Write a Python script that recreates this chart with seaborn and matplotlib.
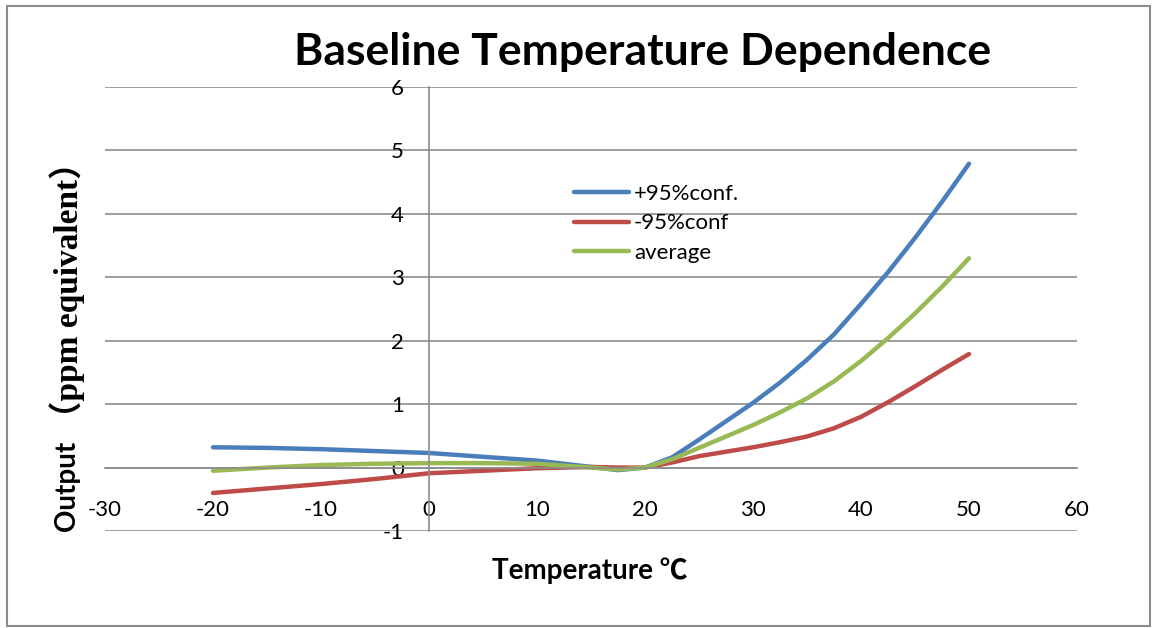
import numpy as np
import pandas as pd
import seaborn as sns
import matplotlib
matplotlib.use("Agg")
import matplotlib.pyplot as plt
from matplotlib.patches import Rectangle

# values
temps = [-20, -15, -10, -5, 0, 5, 10, 15, 17.5, 20, 22.5, 25, 27.5, 30,
         32.5, 35, 37.5, 40, 42.5, 45, 47.5, 50]
upper_conf = [0.32, 0.31, 0.29, 0.26, 0.23, 0.17, 0.11, 0.01, -0.04, 0.0, 0.16,
              0.44, 0.73, 1.02, 1.34, 1.70, 2.10, 2.58, 3.08, 3.62, 4.19, 4.79]
lower_conf = [-0.40, -0.33, -0.26, -0.18, -0.09, -0.05, -0.01, 0.01, 0.0, 0.0, 0.08,
              0.18, 0.25, 0.32, 0.40, 0.49, 0.62, 0.80, 1.03, 1.28, 1.54, 1.79]
average = [-0.05, 0.0, 0.04, 0.06, 0.07, 0.07, 0.06, 0.0, -0.03, 0.0, 0.13,
           0.31, 0.49, 0.67, 0.87, 1.09, 1.36, 1.68, 2.04, 2.43, 2.85, 3.30]

series_names = ["+95%conf.", "-95%conf", "average"]
series_colors = ["#4a7ebb", "#be4b48", "#98b954"]
x_ticks = list(range(-30, 61, 10))
y_ticks = list(range(-1, 7))

df = pd.DataFrame({
    "temp": temps * 3,
    "value": upper_conf + lower_conf + average,
    "series": [series_names[0]] * len(temps) + [series_names[1]] * len(temps)
              + [series_names[2]] * len(temps),
})

sns.set_style("white")
plt.rcParams["font.family"] = ["Lato", "DejaVu Sans"]
plt.rcParams["axes.unicode_minus"] = False
plt.rcParams["text.color"] = "black"

fig = plt.figure(figsize=(11.56, 6.28), dpi=100)
ax = fig.add_axes([105 / 1156, 1 - 531 / 628, 972 / 1156, 444 / 628])

sns.lineplot(data=df, x="temp", y="value", hue="series", hue_order=series_names,
             palette=dict(zip(series_names, series_colors)), sort=False,
             linewidth=3.2, ax=ax)
for line in ax.get_lines():
    line.set_solid_capstyle("round")
    line.set_solid_joinstyle("round")

ax.set_xlim(-30, 60)
ax.set_ylim(-1, 6)
ax.set_xticks(x_ticks)
ax.set_yticks(y_ticks)
ax.set_xlabel("")
ax.set_ylabel("")

grid_col = "#8c8c8c"
ax.yaxis.grid(True, color=grid_col, linewidth=1.2)
ax.xaxis.grid(False)
for gl in ax.get_ygridlines():
    gl.set_clip_on(False)
ax.set_axisbelow(True)

# axes cross at the origin, like the original spreadsheet chart
ax.spines["left"].set_position(("data", 0))
ax.spines["bottom"].set_position(("data", 0))
ax.spines["top"].set_visible(False)
ax.spines["right"].set_visible(False)
for s in ("left", "bottom"):
    ax.spines[s].set_color(grid_col)
    ax.spines[s].set_linewidth(1.2)

ax.tick_params(axis="x", direction="out", length=6, width=1.2, color=grid_col,
               pad=17, labelsize=16, labelcolor="black")
ax.tick_params(axis="y", length=0, pad=18, labelsize=16, labelcolor="black")

leg = ax.legend(loc="upper left", bbox_to_anchor=(0.483, 0.782), frameon=False,
                fontsize=16, handlelength=2.45, handletextpad=0.22,
                labelspacing=0.43, borderpad=0, borderaxespad=0)
for h in leg.get_lines():
    h.set_linewidth(3.2)

fig.text(643 / 1156, 1 - 52 / 628, "Baseline Temperature Dependence", fontsize=32,
         fontweight="bold", ha="center", va="center")
fig.text(590 / 1156, 1 - 571 / 628, "Temperature ℃", fontsize=20,
         fontweight="bold", ha="center", va="center",
         family=["Lato", "Noto Sans CJK SC"])
fig.text(0.058, 1 - 486 / 628, "Output", fontsize=20, fontweight="bold",
         rotation=90, ha="center", va="center")
fig.text(0.058, 1 - 290 / 628, "（ppm equivalent）", fontsize=24,
         fontweight="bold", rotation=90, ha="center", va="center",
         family=["Liberation Serif", "Noto Sans CJK SC"])

fig.patches.append(Rectangle((7 / 1156, 2 / 628), 1143 / 1156, 620 / 628,
                             transform=fig.transFigure, fill=False,
                             edgecolor=grid_col, linewidth=1.5))

fig.savefig("out.png", dpi=100)
